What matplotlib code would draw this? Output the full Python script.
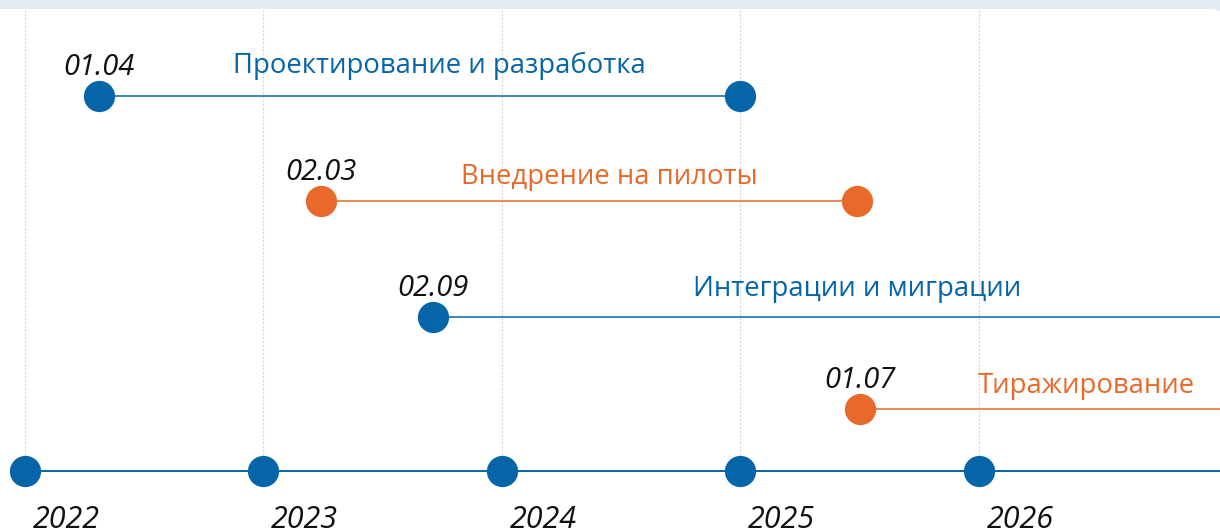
import matplotlib
matplotlib.use("Agg")
import matplotlib.pyplot as plt
from matplotlib.patches import FancyBboxPatch
from matplotlib.transforms import IdentityTransform, offset_copy

# timeline data (x in fractional years)
years = [2022, 2023, 2024, 2025, 2026]
year_labels = ["2022", "2023", "2024", "2025", "2026"]

task_names = ["Проектирование и разработка", "Внедрение на пилоты",
              "Интеграции и миграции", "Тиражирование"]
task_start = [2022.31, 2023.24, 2023.71, 2025.50]
task_end = [2025.00, 2025.49, 2027.10, 2027.23]
start_labels = ["01.04", "02.03", "02.09", "01.07"]
# tasks 3 and 4 run on past the right edge, so no end point is drawn
task_has_end = [True, True, False, False]

BLUE = "#0565a8"
ORANGE = "#e8692a"
task_colors = [BLUE, ORANGE, BLUE, ORANGE]

row_y = [96, 201, 317, 409]  # pixel rows from the top
name_lift = [23, 17, 21, 16]  # how far each task name sits above its line
base_y = 471


def plot_timeline():
    fig = plt.figure(figsize=(12.2, 5.29), dpi=100)
    fig.patch.set_facecolor("#e4ebf2")

    # white rounded card under everything
    card = FancyBboxPatch((-20, -40), 1245, 560,
                          boxstyle="round,pad=0,rounding_size=15",
                          transform=IdentityTransform(),
                          facecolor="white", edgecolor="none", zorder=0)
    fig.add_artist(card)

    ax = fig.add_axes([0, 0, 1, 1])
    ax.set_facecolor("none")
    ax.set_xlim(2022 - 25 / 238.5, 2022 + 1195 / 238.5)
    ax.set_ylim(529, 0)
    ax.axis("off")

    # dashed year gridlines
    ax.vlines(years, 10, base_y, colors="#d6d6d6", linestyles=(0, (2, 1.5)),
              linewidth=0.8, zorder=1)

    # bottom axis with year dots
    ax.plot([years[0], 2028], [base_y, base_y], color=BLUE, lw=1.4, zorder=2)
    ax.plot(years, [base_y] * len(years), "o", color=BLUE, ms=22.5,
            mec="none", zorder=3)
    year_tr = offset_copy(ax.transData, fig=fig, x=41, y=0, units="dots")
    for yr, lab in zip(years, year_labels):
        ax.text(yr, 528, lab, transform=year_tr, ha="center", va="baseline",
                fontsize=22, style="italic", color="#111111",
                family="Open Sans")

    # task bars
    label_tr = offset_copy(ax.transData, fig=fig, x=20, y=0, units="dots")
    for i in range(len(task_names)):
        c = task_colors[i]
        y = row_y[i]
        ax.plot([task_start[i], task_end[i]], [y, y], color=c, lw=1.1, zorder=2)
        pts = [task_start[i]]
        if task_has_end[i]:
            pts.append(task_end[i])
        ax.plot(pts, [y] * len(pts), "o", color=c, ms=22.5, mec="none", zorder=3)
        ax.text(task_start[i], y - 21, start_labels[i], ha="center",
                va="baseline", fontsize=21, style="italic", color="#111111",
                family="Open Sans")
        mid = (task_start[i] + task_end[i]) / 2
        ax.text(mid, y - name_lift[i], task_names[i], transform=label_tr,
                ha="center", va="baseline", fontsize=19.8, color=c,
                family="Open Sans")

    fig.savefig("out.png", dpi=100, facecolor=fig.get_facecolor())


plot_timeline()
